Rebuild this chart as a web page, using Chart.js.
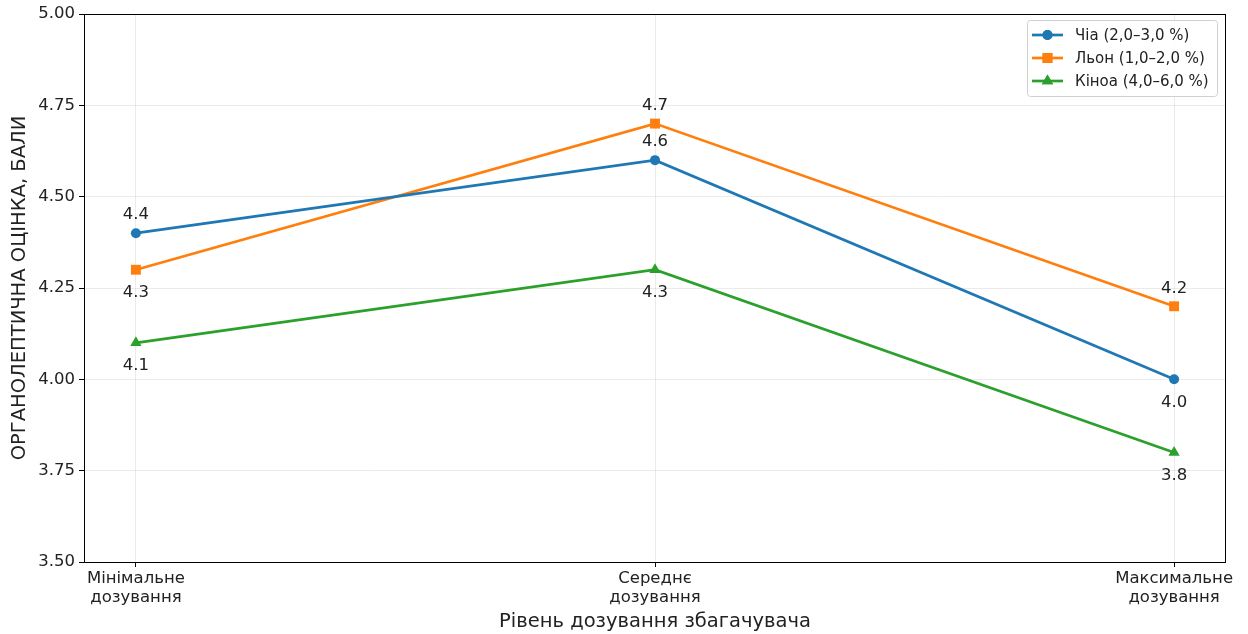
<!DOCTYPE html>
<html>
<head>
<meta charset="utf-8">
<script src="https://cdn.jsdelivr.net/npm/chart.js@4.4.1/dist/chart.umd.min.js"></script>
<style>
  html, body { margin: 0; padding: 0; background: #fff; }
  #wrap { width: 1248px; height: 634px; }
</style>
</head>
<body>
<div id="wrap"><canvas id="c" width="1248" height="634"></canvas></div>
<script>
// Dosage levels on the x axis
const categories = [["Мінімальне", "дозування"], ["Середнє", "дозування"], ["Максимальне", "дозування"]];
// Organoleptic scores per enrichment additive
const chiaValues = [4.4, 4.6, 4.0];
const flaxValues = [4.3, 4.7, 4.2];
const quinoaValues = [4.1, 4.3, 3.8];
const seriesNames = ["Чіа (2,0–3,0 %)", "Льон (1,0–2,0 %)", "Кіноа (4,0–6,0 %)"];
// Where each value label sits relative to its point: 1 = above, -1 = below
const chiaLabelSide = [1, 1, -1];
const flaxLabelSide = [-1, 1, 1];
const quinoaLabelSide = [-1, -1, -1];
const yTicks = [3.5, 3.75, 4.0, 4.25, 4.5, 4.75, 5.0];

const FONT = "'DejaVu Sans', sans-serif";
const colors = ["#1f77b4", "#ff7f0e", "#2ca02c"];
const styles = ["circle", "rect", "triangle"];
const radii = [5, 7, 6.5];
const valueSets = [chiaValues, flaxValues, quinoaValues];
const sides = [chiaLabelSide, flaxLabelSide, quinoaLabelSide];

const datasets = valueSets.map((vals, i) => ({
  label: seriesNames[i],
  data: vals.map((v, j) => ({ x: j, y: v })),
  borderColor: colors[i],
  backgroundColor: colors[i],
  borderWidth: 2.7,
  pointStyle: styles[i],
  pointRadius: radii[i],
  pointHoverRadius: radii[i],
  pointBorderWidth: 0,
  labelSide: sides[i],
  tension: 0
}));

const decor = {
  id: "decor",
  afterDatasetsDraw(chart) {
    const ctx = chart.ctx;
    const a = chart.chartArea;
    // value labels
    ctx.save();
    ctx.font = "16.5px " + FONT;
    ctx.fillStyle = "#222";
    ctx.textAlign = "center";
    ctx.textBaseline = "middle";
    chart.data.datasets.forEach((ds, i) => {
      const meta = chart.getDatasetMeta(i);
      meta.data.forEach((pt, j) => {
        const v = ds.data[j].y;
        const off = ds.labelSide[j] > 0 ? -18 : 23;
        ctx.fillText(v.toFixed(1), pt.x, pt.y + off);
      });
    });
    ctx.restore();

    // frame
    ctx.save();
    ctx.strokeStyle = "#000";
    ctx.lineWidth = 1;
    ctx.strokeRect(Math.round(a.left) + 0.5, Math.round(a.top) + 0.5,
                   Math.round(a.right - a.left) - 1, Math.round(a.bottom - a.top));
    ctx.restore();

    // legend
    ctx.save();
    const lx = a.right - 199, ly = a.top + 6, lw = 190, lh = 76;
    ctx.fillStyle = "rgba(255,255,255,0.85)";
    ctx.strokeStyle = "#d0d0d0";
    ctx.lineWidth = 1;
    ctx.beginPath();
    ctx.roundRect(lx + 0.5, ly + 0.5, lw, lh, 3);
    ctx.fill();
    ctx.stroke();
    ctx.font = "15px " + FONT;
    ctx.textBaseline = "middle";
    ctx.textAlign = "left";
    chart.data.datasets.forEach((ds, i) => {
      const y = ly + 15 + i * 23;
      ctx.strokeStyle = ds.borderColor;
      ctx.lineWidth = 2.7;
      ctx.beginPath();
      ctx.moveTo(lx + 5, y);
      ctx.lineTo(lx + 36, y);
      ctx.stroke();
      ctx.fillStyle = ds.backgroundColor;
      Chart.helpers.drawPoint(ctx, { pointStyle: ds.pointStyle, radius: ds.pointRadius, borderWidth: 0, rotation: 0 }, lx + 20.5, y);
      ctx.fill();
      ctx.fillStyle = "#222";
      ctx.fillText(ds.label, lx + 48, y + 1);
    });
    ctx.restore();
  }
};

new Chart(document.getElementById("c"), {
  type: "line",
  data: { datasets },
  options: {
    responsive: false,
    animation: false,
    events: [],
    layout: { padding: { left: 0, top: 14, right: 22, bottom: 0 } },
    plugins: { legend: { display: false }, tooltip: { enabled: false } },
    scales: {
      x: {
        type: "linear",
        min: -0.1,
        max: 2.1,
        afterBuildTicks(scale) { scale.ticks = categories.map((_, i) => ({ value: i })); },
        afterFit(scale) { scale.height = 72; },
        ticks: {
          callback: (v) => categories[v],
          font: { family: FONT, size: 16.5, lineHeight: 1.15 },
          color: "#222",
          padding: 2,
          maxRotation: 0,
          autoSkip: false
        },
        grid: { color: "rgba(0,0,0,0.08)", tickColor: "#000", tickLength: 5, drawOnChartArea: true },
        border: { display: false },
        title: {
          display: true,
          text: "Рівень дозування збагачувача",
          font: { family: FONT, size: 19.5 },
          color: "#222",
          padding: { top: 0, bottom: 0 }
        }
      },
      y: {
        type: "linear",
        min: 3.5,
        max: 5.0,
        afterBuildTicks(scale) { scale.ticks = yTicks.map(v => ({ value: v })); },
        afterFit(scale) { scale.width = 84; },
        ticks: {
          callback: (v) => v.toFixed(2),
          font: { family: FONT, size: 16.5 },
          color: "#222",
          padding: 4
        },
        grid: { color: "rgba(0,0,0,0.08)", tickColor: "#000", tickLength: 5 },
        border: { display: false },
        title: {
          display: true,
          text: "ОРГАНОЛЕПТИЧНА ОЦІНКА, БАЛИ",
          font: { family: FONT, size: 19.5 },
          color: "#222",
          padding: { top: 8, bottom: 4 }
        }
      }
    }
  },
  plugins: [decor]
});
</script>
</body>
</html>
